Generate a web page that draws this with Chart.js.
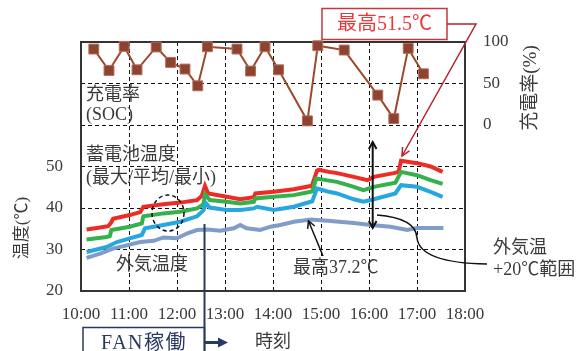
<!DOCTYPE html>
<html><head><meta charset="utf-8">
<script src="https://cdn.jsdelivr.net/npm/chart.js@4"></script>
<style>html,body{margin:0;padding:0;background:#fff;}#wrap{width:576px;height:351px;}</style>
</head><body><div id="wrap"><canvas id="c" width="576" height="351"></canvas></div>
<script>
// ---- data ----
const maxTimes = ["10:07","10:24","10:34","10:38","10:40","11:01","11:14","11:18","11:43","12:04","12:25","12:31","12:35","12:39","13:02","13:19","13:36","13:38","14:01","14:26","14:47","14:49","14:55","14:57","15:10","15:20","15:41","15:58","16:06","16:31","16:37","16:40","17:00","17:17","17:32"];
const maxTemps = [34.8,35.3,35.6,36.6,37.4,38.3,39.0,40.3,40.9,41.3,41.9,42.9,45.3,43.5,42.7,42.1,42.6,43.5,43.9,44.5,45.3,45.5,49.0,49.2,48.7,48.4,47.5,46.7,47.5,48.4,48.7,51.4,50.8,50.0,48.7];
const avgTimes = ["10:07","10:32","10:36","10:38","11:01","11:16","11:18","11:43","12:04","12:25","12:33","12:35","12:41","13:02","13:19","13:36","13:38","14:01","14:26","14:47","14:49","14:54","15:10","15:20","15:41","15:53","16:06","16:33","16:40","17:00","17:17","17:32"];
const avgTemps = [32.4,33.0,33.2,34.7,35.5,36.3,38.0,38.7,39.1,39.9,40.9,43.3,41.9,41.5,41.1,41.5,42.3,42.7,43.1,43.9,44.0,47.1,46.6,46.3,45.1,44.3,45.1,46.1,48.7,47.9,46.7,45.8];
const minTimes = ["10:07","10:32","10:45","11:01","11:16","11:20","11:43","12:04","12:25","12:33","12:36","12:41","13:02","13:19","13:36","13:40","14:01","14:26","14:47","14:49","14:55","15:10","15:20","15:41","15:53","16:06","16:33","16:40","17:00","17:17","17:32"];
const minTemps = [29.4,30.6,31.8,32.7,33.5,35.1,35.9,36.7,38.0,39.4,41.2,40.1,39.5,39.5,39.9,40.3,39.5,40.3,41.5,41.6,44.7,43.9,43.5,42.1,41.5,42.1,43.5,45.5,45.1,43.9,42.7];
const outsideTimes = ["10:07","10:24","10:40","10:57","11:14","11:31","11:43","12:00","12:13","12:25","12:38","12:54","13:11","13:19","13:27","13:44","13:57","14:09","14:26","14:43","14:47","15:08","15:41","16:02","16:27","16:48","17:00","17:33"];
const outsideTemps = [28.0,29.0,30.2,31.0,31.8,32.1,32.9,32.7,33.9,34.7,34.8,34.5,35.1,35.9,35.1,34.7,35.5,35.9,36.7,37.1,37.2,36.9,36.4,35.9,35.5,34.7,35.2,35.2];
const socTimes = ["10:16","10:35","10:54","11:10","11:34","11:52","12:10","12:26","12:38","13:15","13:32","13:50","14:07","14:43","14:56","15:29","16:11","16:31","16:49","17:08"];
const socValues = [91.5,65.7,94.7,66.5,94,75.4,67.4,47.2,94.3,91.5,65,94.3,66.5,5,95.5,90.3,36,7.7,92.3,61.7];
const hourTicks = ["10:00","11:00","12:00","13:00","14:00","15:00","16:00","17:00","18:00"];
const tempTickLabels = [20,30,40,50];
const socTickLabels = [0,50,100];

const toH = s => { const [h,m] = s.split(':').map(Number); return h + m/60; };
const pts = (times, vals) => times.map((t,i) => ({x: toH(t), y: vals[i]}));

const SERIF = '"Liberation Serif","Noto Sans CJK JP",serif';
const TXT = '#3a3a3a';

function head(ctx, x1, y1, x2, y2, len, ang, filled) {
  const a = Math.atan2(y2 - y1, x2 - x1);
  ctx.beginPath();
  ctx.moveTo(x2 - len*Math.cos(a - ang), y2 - len*Math.sin(a - ang));
  ctx.lineTo(x2, y2);
  ctx.lineTo(x2 - len*Math.cos(a + ang), y2 - len*Math.sin(a + ang));
  if (filled) { ctx.closePath(); ctx.fill(); } else ctx.stroke();
}

const framePlugin = {
  id: 'frame',
  beforeDatasetsDraw(chart) {
    const {ctx, chartArea: a} = chart;
    ctx.save();
    ctx.strokeStyle = '#333';
    ctx.lineWidth = 2;
    ctx.strokeRect(a.left, a.top, a.right - a.left, a.bottom - a.top);
    ctx.restore();
  }
};

const annotPlugin = {
  id: 'annot',
  afterDraw(chart) {
    const ctx = chart.ctx;
    ctx.save();
    ctx.fillStyle = TXT;
    ctx.textBaseline = 'middle';
    ctx.font = '18px ' + SERIF;
    ctx.textAlign = 'left';
    ctx.fillText('充電率', 86, 95);
    ctx.fillText('(SOC)', 86, 115);
    ctx.fillText('蓄電池温度', 86, 155);
    ctx.fillText('(最大/平均/最小)', 86, 178);
    ctx.textAlign = 'center';
    ctx.fillText('外気温度', 152, 265);
    ctx.textAlign = 'left';
    ctx.fillText('最高37.2℃', 293, 268);
    ctx.fillText('外気温', 493, 248);
    ctx.fillText('+20℃範囲', 493, 270);
    ctx.textAlign = 'center';
    ctx.fillText('時刻', 273, 342);

    // axis titles
    ctx.font = '17px ' + SERIF;
    ctx.save(); ctx.translate(23, 228); ctx.rotate(-Math.PI/2);
    ctx.fillText('温度(℃)', 0, 0); ctx.restore();
    ctx.font = '19px ' + SERIF;
    ctx.save(); ctx.translate(531, 88); ctx.rotate(-Math.PI/2);
    ctx.fillText('充電率(%)', 0, 0); ctx.restore();

    // dashed ellipse
    ctx.strokeStyle = '#111'; ctx.lineWidth = 1.5; ctx.setLineDash([4,3]);
    ctx.beginPath(); ctx.ellipse(168, 213, 16, 18, 0, 0, Math.PI*2); ctx.stroke();
    ctx.setLineDash([]);

    // max 51.5 callout
    ctx.strokeStyle = '#c8363e'; ctx.lineWidth = 1.5;
    ctx.fillStyle = '#fff';
    ctx.fillRect(322, 8.5, 125, 31);
    ctx.strokeRect(322, 8.5, 125, 31);
    ctx.fillStyle = '#e8383a'; ctx.font = '20px ' + SERIF; ctx.textAlign = 'center';
    ctx.fillText('最高51.5℃', 384.5, 25);
    ctx.strokeStyle = '#b8202e';
    ctx.beginPath(); ctx.moveTo(447, 24); ctx.lineTo(476, 24); ctx.lineTo(402, 156); ctx.stroke();
    head(ctx, 476, 24, 402, 156, 9, 0.45, false);

    // double arrow
    ctx.strokeStyle = '#111'; ctx.lineWidth = 2;
    ctx.beginPath(); ctx.moveTo(372.7, 142); ctx.lineTo(372.7, 228); ctx.stroke();
    head(ctx, 372.7, 228, 372.7, 142, 8, 0.5, false);
    head(ctx, 372.7, 142, 372.7, 228, 8, 0.5, false);

    // 37.2 arrow
    ctx.lineWidth = 1.5;
    ctx.beginPath(); ctx.moveTo(323, 256); ctx.lineTo(308.5, 221); ctx.stroke();
    head(ctx, 323, 256, 308.5, 221, 8, 0.5, false);

    // curve to outside+20 label
    ctx.beginPath(); ctx.moveTo(377, 215);
    ctx.quadraticCurveTo(416, 218, 417, 238);
    ctx.quadraticCurveTo(420, 263, 487, 264);
    ctx.stroke();

    // FAN box and line
    ctx.strokeStyle = '#2b3863'; ctx.fillStyle = '#2b3863';
    ctx.lineWidth = 2;
    ctx.beginPath(); ctx.moveTo(204.5, 224); ctx.lineTo(204.5, 352); ctx.stroke();
    ctx.lineWidth = 1.5;
    ctx.strokeRect(83, 327.5, 121.5, 40);
    ctx.font = '20px ' + SERIF; ctx.textAlign = 'center';
    if ('letterSpacing' in ctx) ctx.letterSpacing = '1.5px';
    ctx.fillText('FAN稼働', 144, 344);
    if ('letterSpacing' in ctx) ctx.letterSpacing = '0px';
    ctx.lineWidth = 3;
    ctx.beginPath(); ctx.moveTo(204.5, 342.5); ctx.lineTo(220, 342.5); ctx.stroke();
    ctx.beginPath(); ctx.moveTo(218, 337.5); ctx.lineTo(228, 342.5); ctx.lineTo(218, 347.5); ctx.closePath(); ctx.fill();
    ctx.restore();
  }
};

const gridColor = (lo, hi) => ctx => (ctx.tick && (ctx.tick.value <= lo || ctx.tick.value >= hi)) ? 'rgba(0,0,0,0)' : '#111';

new Chart(document.getElementById('c'), {
  type: 'line',
  data: {
    datasets: [
      {label: '外気温度', data: pts(outsideTimes, outsideTemps), borderColor: '#809cc8', borderWidth: 4, pointRadius: 0, yAxisID: 'y'},
      {label: '最小', data: pts(minTimes, minTemps), borderColor: '#27a6e0', borderWidth: 4, pointRadius: 0, yAxisID: 'y'},
      {label: '平均', data: pts(avgTimes, avgTemps), borderColor: '#34b04c', borderWidth: 4, pointRadius: 0, yAxisID: 'y'},
      {label: '最大', data: pts(maxTimes, maxTemps), borderColor: '#ee2c26', borderWidth: 4, pointRadius: 0, yAxisID: 'y'},
      {label: '充電率', data: pts(socTimes, socValues), borderColor: '#9a4a2a', borderWidth: 2,
       pointStyle: 'rect', pointRadius: 7, pointBackgroundColor: '#8c4430', pointBorderColor: '#b86a5a', pointBorderWidth: 1,
       yAxisID: 'y2', clip: 10}
    ]
  },
  options: {
    responsive: false, animation: false,
    layout: {padding: {top: 42, right: 0, bottom: 0, left: 0}},
    plugins: {legend: {display: false}, tooltip: {enabled: false}},
    scales: {
      x: {
        type: 'linear', min: 10, max: 18,
        afterBuildTicks: s => { s.ticks = hourTicks.map(toH).map(v => ({value: v})); },
        afterFit: s => { s.height = 60; },
        ticks: {callback: (v, i) => hourTicks[i], font: {family: SERIF, size: 17}, color: TXT, padding: 13, maxRotation: 0, autoSkip: false},
        grid: {color: gridColor(10, 18), lineWidth: 1, drawTicks: false},
        border: {display: false, dash: [4, 3]}
      },
      y: {
        position: 'left', min: 20, max: 80,
        afterBuildTicks: s => { s.ticks = [20,30,40,50,60,70,80].map(v => ({value: v})); },
        afterFit: s => { s.width = 81; },
        ticks: {callback: v => tempTickLabels.includes(v) ? String(v) : '', font: {family: SERIF, size: 17}, color: TXT, padding: 18},
        grid: {color: gridColor(20, 80), lineWidth: 1, drawTicks: false},
        border: {display: false, dash: [4, 3]}
      },
      y2: {
        position: 'right', min: -200, max: 100,
        afterBuildTicks: s => { s.ticks = socTickLabels.map(v => ({value: v})); },
        afterFit: s => { s.width = 111; },
        ticks: {callback: v => String(v), font: {family: SERIF, size: 17}, color: TXT, padding: 18},
        grid: {display: false, drawTicks: false},
        border: {display: false}
      }
    }
  },
  plugins: [framePlugin, annotPlugin]
});
</script>
</body></html>
